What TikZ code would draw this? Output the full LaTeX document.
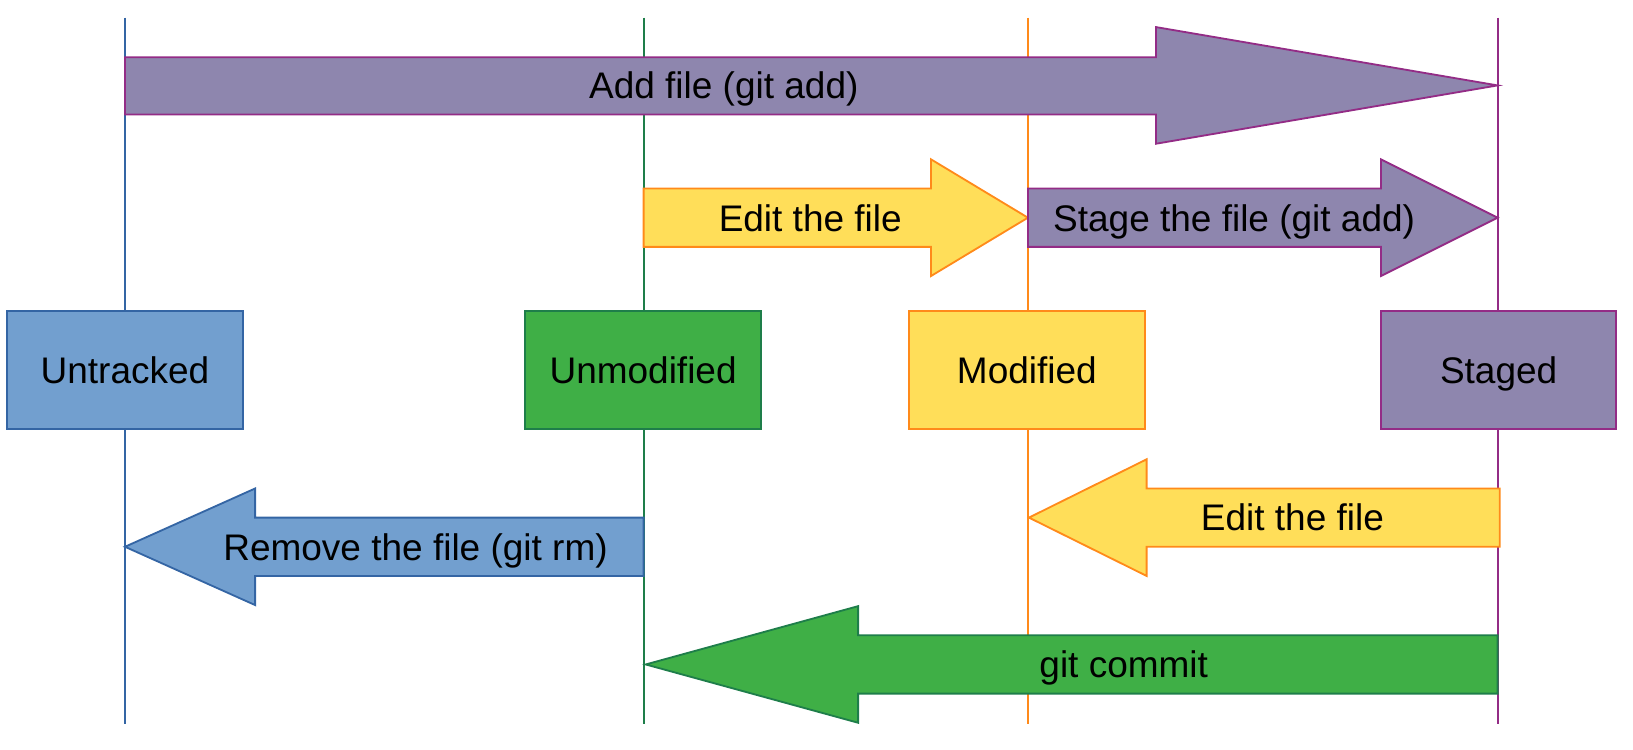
\documentclass[tikz,border=0pt]{standalone}
\usepackage{xcolor}
\usepackage{tikz}
\usepackage{fontspec}
\setmainfont{Liberation Sans}

\definecolor{bluefill}{HTML}{729FCF}
\definecolor{blueline}{HTML}{3465A4}
\definecolor{greenfill}{HTML}{3FAF46}
\definecolor{greenline}{HTML}{1E7E4A}
\definecolor{yellowfill}{HTML}{FFDE59}
\definecolor{orangeline}{HTML}{FF8A1A}
\definecolor{purplefill}{HTML}{8E86AE}
\definecolor{purpleline}{HTML}{932C86}

\begin{document}
\begin{tikzpicture}[x=0.01cm, y=-0.01cm, line width=0.5pt,
    state/.style={draw, minimum width=2.26cm, minimum height=1.13cm, inner sep=0pt},
    txt/.style={inner sep=0pt},
    every node/.style={font=\fontsize{10.1pt}{12pt}\selectfont, text height=0.93em, text depth=0.2em}]
    \useasboundingbox (0,0) rectangle (1568,720);
    % lanes
    \coordinate (untr top) at (120,17);  \coordinate (untr bot) at (120,695);
    \coordinate (unmo top) at (618,17);  \coordinate (unmo bot) at (618,695);
    \coordinate (modi top) at (987,17);  \coordinate (modi bot) at (987,695);
    \coordinate (stag top) at (1438,17); \coordinate (stag bot) at (1438,695);
    \draw[blueline] (untr top) -- (untr bot);
    \draw[greenline] (unmo top) -- (unmo bot);
    \draw[orangeline] (modi top) -- (modi bot);
    \draw[purpleline] (stag top) -- (stag bot);
    % arrows
    \draw[purpleline, fill=purplefill] (120,55) -- (1110,55) -- (1110,26) -- (1438,82)
        -- (1110,138) -- (1110,110) -- (120,110) -- cycle;
    \draw[orangeline, fill=yellowfill] (618,181) -- (894,181) -- (894,153) -- (987,209)
        -- (894,265) -- (894,237) -- (618,237) -- cycle;
    \draw[purpleline, fill=purplefill] (987,181) -- (1326,181) -- (1326,153) -- (1438,209)
        -- (1326,265) -- (1326,237) -- (987,237) -- cycle;
    \draw[orangeline, fill=yellowfill] (1440,469) -- (1101,469) -- (1101,441) -- (988,497)
        -- (1101,553) -- (1101,525) -- (1440,525) -- cycle;
    \draw[blueline, fill=bluefill] (618,497) -- (245,497) -- (245,469) -- (120,525)
        -- (245,581) -- (245,553) -- (618,553) -- cycle;
    \draw[greenline, fill=greenfill] (1438,610) -- (824,610) -- (824,582) -- (620,638)
        -- (824,694) -- (824,666) -- (1438,666) -- cycle;
    \node[txt] (add) at (695,82) {Add file (git add)};
    \node[txt] (edit) at (778,209) {Edit the file};
    \node[txt] (stage) at (1185,209) {Stage the file (git add)};
    \node[txt] (reedit) at (1241,497) {Edit the file};
    \node[txt] (remove) at (399,525) {Remove the file (git rm)};
    \node[txt] (commit) at (1079,638) {git commit};
    % states
    \node[state, blueline, fill=bluefill, text=black] (untracked) at (120,355.5) {Untracked};
    \node[state, greenline, fill=greenfill, text=black] (unmodified) at (617.5,355.5) {Unmodified};
    \node[state, orangeline, fill=yellowfill, text=black] (modified) at (986,355.5) {Modified};
    \node[state, purpleline, fill=purplefill, text=black] (staged) at (1439,355.5) {Staged};
\end{tikzpicture}
\end{document}
